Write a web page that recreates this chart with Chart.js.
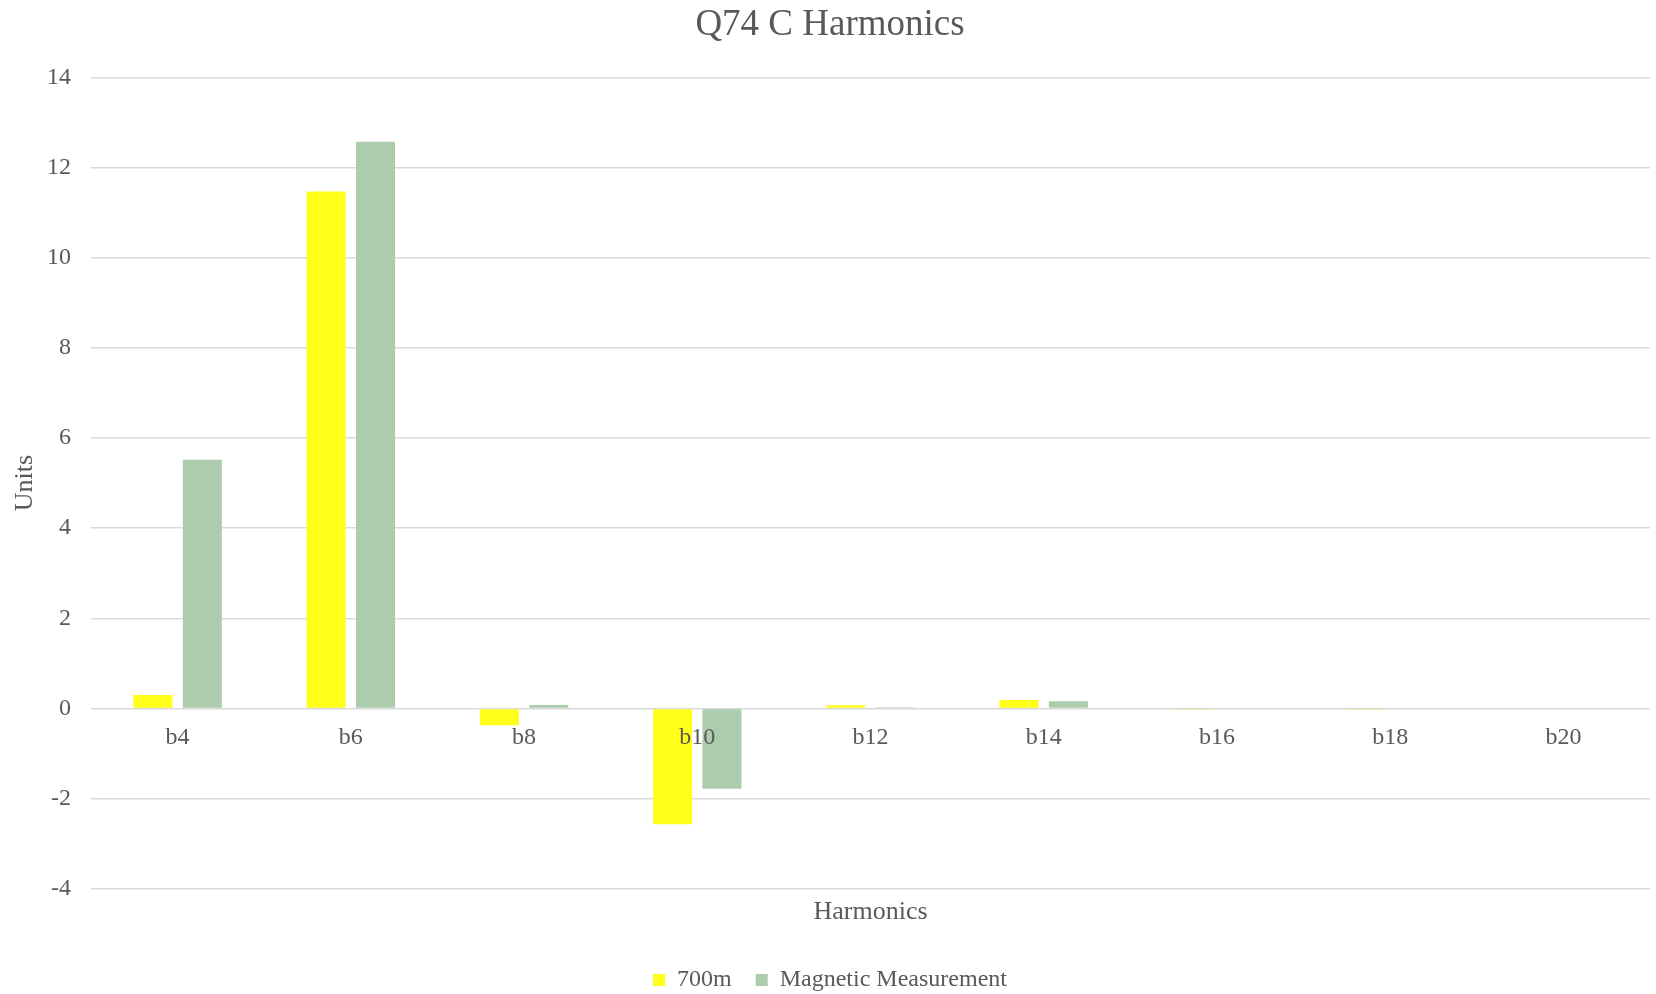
<!DOCTYPE html>
<html>
<head>
<meta charset="utf-8">
<script src="https://cdn.jsdelivr.net/npm/chart.js@4.4.1/dist/chart.umd.min.js"></script>
<style>
  html, body { margin: 0; padding: 0; background: #fff; }
  #harmonics { display: block; }
</style>
</head>
<body>
<canvas id="harmonics" width="1656" height="994"></canvas>
<script>
// values
var harmonicLabels = ["b4", "b6", "b8", "b10", "b12", "b14", "b16", "b18", "b20"];
var values700m = [0.3, 11.47, -0.37, -2.57, 0.07, 0.19, -0.01, -0.02, 0];
var valuesMagnetic = [5.52, 12.57, 0.08, -1.78, 0.03, 0.16, 0, 0, 0];
var yTicks = [-4, -2, 0, 2, 4, 6, 8, 10, 12, 14];

var textColor = '#595959';
var serif = "'Liberation Serif', 'Times New Roman', serif";

var harmonicsData = {
    type: 'bar',
    data: {
        labels: harmonicLabels,
        datasets: [{
            label: '700m',
            data: values700m,
            backgroundColor: '#ffff1a',
            categoryPercentage: 0.57,
            barPercentage: 0.79
        }, {
            label: 'Magnetic Measurement',
            data: valuesMagnetic,
            backgroundColor: '#adcbad',
            categoryPercentage: 0.57,
            barPercentage: 0.79
        }]
    },
    options: {
        responsive: false,
        animation: false,
        layout: {
            padding: { left: 10, right: 6, top: 0, bottom: -8 }
        },
        plugins: {
            title: {
                display: true,
                text: 'Q74 C Harmonics',
                color: textColor,
                font: { family: serif, size: 37, weight: 'normal' },
                padding: { top: 3, bottom: 30 }
            },
            legend: {
                position: 'bottom',
                labels: {
                    color: textColor,
                    font: { family: serif, size: 24 },
                    boxWidth: 12,
                    boxHeight: 12,
                    padding: 24
                }
            },
            tooltip: { enabled: false }
        },
        scales: {
            x: {
                position: { y: 0 },
                grid: { display: false },
                border: { display: false },
                ticks: {
                    z: 1, // labels sit on top of the bars, like b10
                    color: textColor,
                    font: { family: serif, size: 24 },
                    padding: 7
                },
                afterFit: function(scale) { scale.height = 0; }
            },
            x2: {
                type: 'category',
                position: 'bottom',
                grid: { display: false },
                border: { display: false },
                ticks: { display: false },
                title: {
                    display: true,
                    text: 'Harmonics',
                    color: textColor,
                    font: { family: serif, size: 26 },
                    padding: { top: 0, bottom: 16 }
                }
            },
            y: {
                min: -4,
                max: 14,
                afterBuildTicks: function(scale) {
                    scale.ticks = yTicks.map(function(v) { return { value: v }; });
                },
                afterFit: function(scale) { scale.width = 81; },
                grid: { color: '#d9d9d9', lineWidth: 1.5, drawTicks: false },
                border: { display: false },
                ticks: {
                    color: textColor,
                    font: { family: serif, size: 24 },
                    padding: 20
                },
                title: {
                    display: true,
                    text: 'Units',
                    color: textColor,
                    font: { family: serif, size: 26 },
                    padding: 0
                }
            }
        }
    }
};

var harmonicsChart = document.getElementById("harmonics").getContext("2d");
window.myBar = new Chart(harmonicsChart, harmonicsData);
</script>
</body>
</html>
